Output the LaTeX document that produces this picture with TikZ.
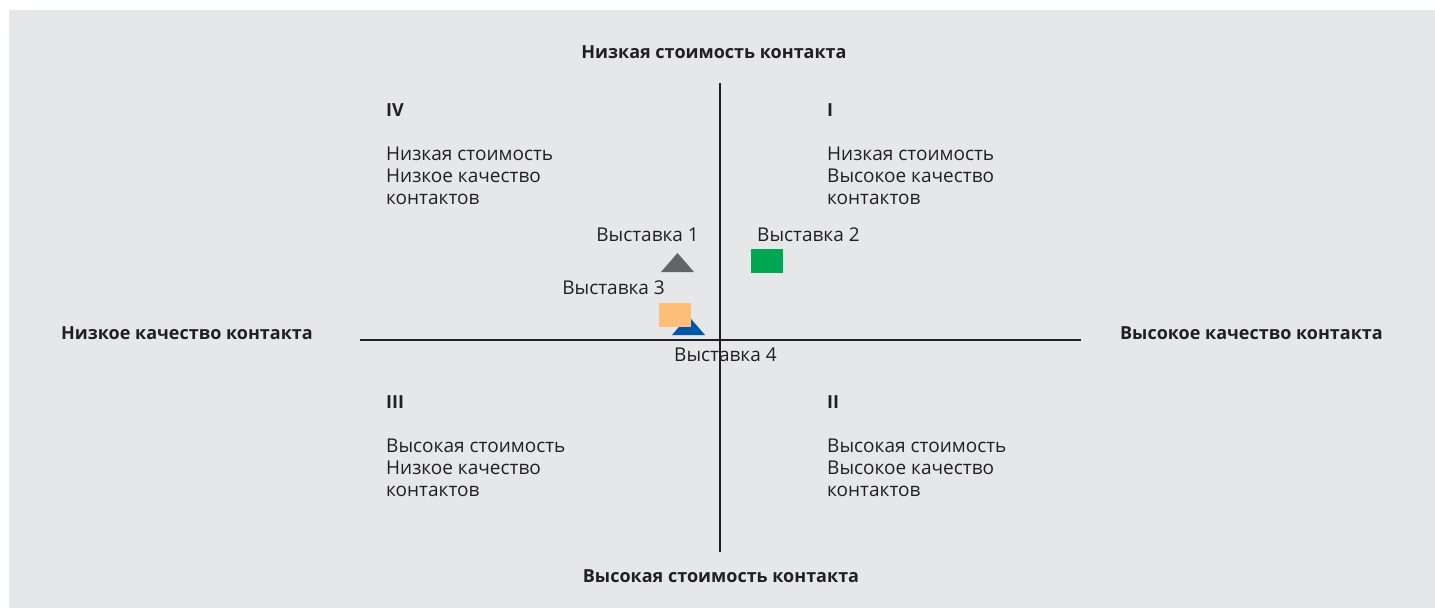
\documentclass[tikz,border=0pt]{standalone}
\usepackage{fontspec}
\setmainfont{Open Sans}
\begin{document}
\begin{tikzpicture}[x=1pt,y=-1pt,
  txt/.style={text=ink,font=\fontsize{19}{22}\selectfont,inner sep=0pt,anchor=base west},
  head/.style={text=ink,font=\fontsize{18}{22}\selectfont\bfseries,inner sep=0pt,anchor=base},
  axis/.style={draw=ink,line width=1.4pt}]
\definecolor{ink}{HTML}{231F20}
\definecolor{bg}{HTML}{E6E7E9}
\definecolor{markgray}{HTML}{636466}
\definecolor{markgreen}{HTML}{00A651}
\definecolor{markorange}{HTML}{FDBF78}
\definecolor{markblue}{HTML}{0057A8}
\useasboundingbox (0,0) rectangle (1435,608);
\fill[white] (0,0) rectangle (1435,608);
\fill[bg] (9,10) rectangle (1435,608);
% axes
\coordinate (vt) at (720,83);
\coordinate (vb) at (720,552);
\coordinate (hl) at (360,340);
\coordinate (hr) at (1081,340);
\draw[axis] (vt) -- (vb);
\draw[axis] (hl) -- (hr);
% axis captions
\node[head] (top) at (714,58.3) {Низкая стоимость контакта};
\node[head] (bottom) at (721,582.3) {Высокая стоимость контакта};
\node[head,anchor=base west] (left) at (61,339.5) {Низкое качество контакта};
\node[head,anchor=base east] (right) at (1383,339.5) {Высокое качество контакта};
% quadrant IV
\node[head,anchor=base west] (q4) at (386,116.7) {IV};
\node[txt] (q4a) at (386,160.7) {Низкая стоимость};
\node[txt] (q4b) at (386,182.7) {Низкое качество};
\node[txt] (q4c) at (386,204.7) {контактов};
% quadrant I
\node[head,anchor=base west] (q1) at (827,116.7) {I};
\node[txt] (q1a) at (827,160.7) {Низкая стоимость};
\node[txt] (q1b) at (827,182.7) {Высокое качество};
\node[txt] (q1c) at (827,204.7) {контактов};
% quadrant III
\node[head,anchor=base west] (q3) at (386,408.7) {III};
\node[txt] (q3a) at (386,452.7) {Высокая стоимость};
\node[txt] (q3b) at (386,474.7) {Низкое качество};
\node[txt] (q3c) at (386,496.7) {контактов};
% quadrant II
\node[head,anchor=base west] (q2) at (827,408.7) {II};
\node[txt] (q2a) at (827,452.7) {Высокая стоимость};
\node[txt] (q2b) at (827,474.7) {Высокое качество};
\node[txt] (q2c) at (827,496.7) {контактов};
% exhibitions
\node[txt,anchor=base east] (e1) at (699,241) {Выставка 1};
\node[txt] (e2) at (757,241) {Выставка 2};
\node[txt,anchor=base east] (e3) at (665,294.3) {Выставка 3};
\node[txt] (e4) at (674,361.7) {Выставка 4};
\fill[markgray] (661,272) -- (694,272) -- (677.5,253) -- cycle;
\fill[markgreen] (751,249) rectangle (783,273);
\fill[markblue] (672,335) -- (705,335) -- (688.5,316) -- cycle;
\fill[markorange] (659,303) rectangle (691,327);
\end{tikzpicture}
\end{document}
